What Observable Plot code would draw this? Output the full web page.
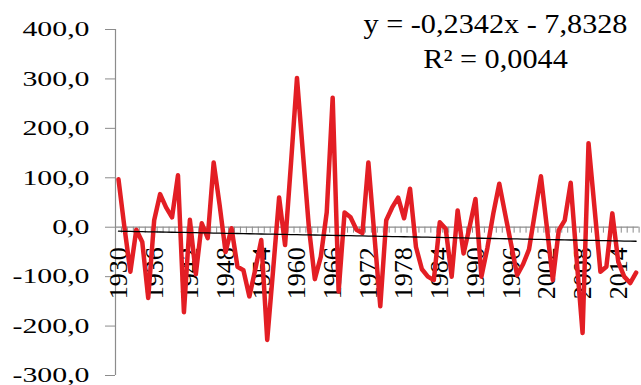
<!DOCTYPE html>
<html>
<head>
<meta charset="utf-8">
<script src="https://cdn.jsdelivr.net/npm/d3@7"></script>
<script src="https://cdn.jsdelivr.net/npm/@observablehq/plot@0.6"></script>
<style>
  html, body { margin: 0; padding: 0; background: #fff; }
  #chart { width: 641px; height: 385px; }
</style>
</head>
<body>
<div id="chart"></div>
<script>
const years = [1930,1931,1932,1933,1934,1935,1936,1937,1938,1939,
  1940,1941,1942,1943,1944,1945,1946,1947,1948,1949,
  1950,1951,1952,1953,1954,1955,1956,1957,1958,1959,
  1960,1961,1962,1963,1964,1965,1966,1967,1968,1969,
  1970,1971,1972,1973,1974,1975,1976,1977,1978,1979,
  1980,1981,1982,1983,1984,1985,1986,1987,1988,1989,
  1990,1991,1992,1993,1994,1995,1996,1997,1998,1999,
  2000,2001,2002,2003,2004,2005,2006,2007,2008,2009,
  2010,2011,2012,2013,2014,2015,2016,2017];
const values = [97,0,-90,-5,-30,-143,14,67,40,20,
  105,-172,15,-95,8,-22,131,45,-50,-2,
  -80,-87,-140,-85,-26,-228,-85,60,-36,130,
  302,150,0,-105,-60,30,262,-130,30,20,
  -5,-12,131,-15,-160,14,40,60,18,78,
  -40,-85,-100,-107,10,-3,-100,34,-53,0,
  57,-100,-42,28,88,26,-35,-97,-75,-45,
  30,103,0,-107,-6,14,90,-65,-214,170,
  40,-90,-80,28,-70,-100,-113,-92];
const xTickLabels = [1930,1936,1942,1948,1954,1960,1966,1972,1978,1984,1990,1996,2002,2008,2014];
const yTicks = [-300,-200,-100,0,100,200,300,400];
const trendSlope = -0.2342;
const trendIntercept = -7.8328;
const equationText = "y = -0,2342x - 7,8328";
const r2Text = "R\u00b2 = 0,0044";

const data = years.map((year, i) => ({year, value: values[i], trend: trendSlope * (i + 1) + trendIntercept}));
const boundaries = d3.range(years[0] - 0.5, years[years.length - 1] + 1, 1);
const gray = "#8c8c8c";
const serif = "Liberation Serif";

const plot = Plot.plot({
  width: 641,
  height: 385,
  marginLeft: 115,
  marginRight: 2.4,
  marginTop: 29,
  marginBottom: 10,
  style: {fontFamily: serif, fontSize: "21px", background: "#fff", overflow: "visible"},
  x: {type: "linear", domain: [years[0] - 0.5, years[years.length - 1] + 0.5], axis: null},
  y: {domain: [-300, 400], axis: null},
  marks: [
    Plot.axisY({ticks: yTicks, tickFormat: d => d.toFixed(1).replace(".", ","), tickSize: 10, tickPadding: 16, stroke: gray, fill: "black", fontSize: 21, fontFamily: serif, label: null}),
    Plot.ruleX([years[0] - 0.5], {stroke: gray, strokeWidth: 1.2}),
    Plot.ruleY([0], {stroke: gray, strokeWidth: 1.2}),
    Plot.ruleX(boundaries, {y1: 0, y2: -12, stroke: gray, strokeWidth: 1}),
    Plot.text(xTickLabels, {x: d => d, y: 0, text: d => String(d), dy: 20, rotate: -90, textAnchor: "end", lineAnchor: "middle", fontSize: 26, fontFamily: serif, fill: "black"}),
    Plot.line(data, {x: "year", y: "value", stroke: "#e31e24", strokeWidth: 4.5}),
    Plot.line(data, {x: "year", y: "trend", stroke: "black", strokeWidth: 1.3}),
    Plot.text([equationText], {frameAnchor: "top-left", dx: 380, dy: 3, text: d => d, textAnchor: "middle", lineAnchor: "bottom", fontSize: 27, fontFamily: serif, fill: "black"}),
    Plot.text([r2Text], {frameAnchor: "top-left", dx: 380, dy: 38, text: d => d, textAnchor: "middle", lineAnchor: "bottom", fontSize: 27, fontFamily: serif, fill: "black"})
  ]
});
document.getElementById("chart").appendChild(plot);

function stretch(selection, factor) {
  selection.each(function() {
    const len = this.getComputedTextLength();
    this.setAttribute("textLength", (len * factor).toFixed(1));
    this.setAttribute("lengthAdjust", "spacingAndGlyphs");
  });
}
// Reference texts are drawn horizontally stretched
stretch(d3.select(plot).selectAll('g[aria-label="y-axis tick label"] text'), 1.42);
stretch(d3.select(plot).selectAll('g[aria-label="text"] text').filter(function() {
  const t = this.textContent;
  return t === equationText || t === r2Text;
}), 1.12);
</script>
</body>
</html>
